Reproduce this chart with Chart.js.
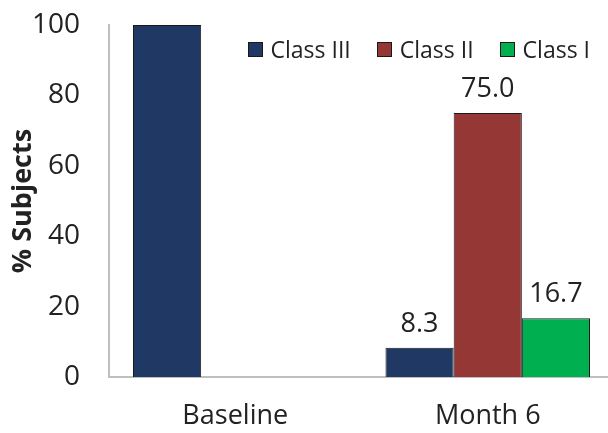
<!DOCTYPE html>
<html>
<head>
<meta charset="utf-8">
<script src="https://cdn.jsdelivr.net/npm/chart.js@4"></script>
<style>
  html, body { margin: 0; padding: 0; background: #fff; overflow: hidden; }
  /* the source chart runs a few pixels past the right edge of the picture */
  #wrap { position: relative; width: 614px; height: 433px; }
  #legend {
    position: absolute; top: 33px; right: 24px;
    display: flex; align-items: center;
    font: 23px "Open Sans", "DejaVu Sans", sans-serif; color: #222;
  }
  #legend .item { display: flex; align-items: center; margin-left: 26px; }
  #legend .box { width: 15px; height: 15px; margin-right: 8px; border: 1px solid #1a1a1a; box-sizing: border-box; }
</style>
</head>
<body>
<div id="wrap"><canvas id="chart"></canvas><div id="legend"></div></div>
<script>
// categories and series
var categories = ['Baseline', 'Month 6'];
var classIII = [100, 8.3];
var classII = [0, 75.0];
var classI = [0, 16.7];
var showValue = [false, true]; // only Month 6 bars carry a value label
var yTicks = [0, 20, 40, 60, 80, 100];

var FONT = '"Open Sans", "DejaVu Sans", sans-serif';

// writes the value above each bar
var valueLabels = {
  id: 'valueLabels',
  afterDatasetsDraw: function (chart) {
    var ctx = chart.ctx;
    ctx.save();
    ctx.font = '27px ' + FONT;
    ctx.fillStyle = '#222';
    ctx.textAlign = 'center';
    ctx.textBaseline = 'alphabetic';
    chart.data.datasets.forEach(function (ds, i) {
      chart.getDatasetMeta(i).data.forEach(function (bar, j) {
        if (!showValue[j]) return;
        ctx.fillText(ds.data[j].toFixed(1), bar.x, bar.y - 16);
      });
    });
    ctx.restore();
  }
};

var chart = new Chart(document.getElementById('chart'), {
  type: 'bar',
  data: {
    labels: categories,
    datasets: [
      { label: 'Class III', data: classIII, backgroundColor: '#1F3864' },
      { label: 'Class II', data: classII, backgroundColor: '#953735' },
      { label: 'Class I', data: classI, backgroundColor: '#00B050' }
    ]
  },
  options: {
    responsive: true,
    maintainAspectRatio: false,
    animation: false,
    layout: { padding: { top: 25, right: 0, left: 0, bottom: 0 } },
    datasets: {
      bar: {
        barPercentage: 1,
        categoryPercentage: 0.81,
        borderColor: '#1a1a1a',
        borderWidth: 1
      }
    },
    plugins: {
      tooltip: { enabled: false },
      legend: { display: false }
    },
    scales: {
      x: {
        afterFit: function (axis) { axis.height = 56; },
        grid: { display: false, drawTicks: false },
        border: { color: '#bfbfbf', width: 2 },
        ticks: { color: '#222', padding: 23, font: { family: FONT, size: 27 } }
      },
      y: {
        min: 0,
        max: 100,
        afterFit: function (axis) {
          axis.width = 109;
          axis.paddingTop = 0;
          axis.paddingBottom = 0;
        },
        afterBuildTicks: function (axis) {
          axis.ticks = yTicks.map(function (v) { return { value: v }; });
        },
        grid: { display: false, drawTicks: false },
        border: { color: '#bfbfbf', width: 2 },
        ticks: { color: '#222', padding: 29, font: { family: FONT, size: 28 } },
        title: {
          display: true,
          text: '% Subjects',
          color: '#222',
          padding: { top: 7, bottom: 0 },
          font: { family: FONT, size: 27, weight: 'bold' }
        }
      }
    }
  },
  plugins: [valueLabels]
});

// html legend from the datasets
var legendEl = document.getElementById('legend');
chart.data.datasets.forEach(function (ds) {
  var item = document.createElement('div');
  item.className = 'item';
  item.innerHTML = '<span class="box" style="background:' + ds.backgroundColor + '"></span>' + ds.label;
  legendEl.appendChild(item);
});
</script>
</body>
</html>
